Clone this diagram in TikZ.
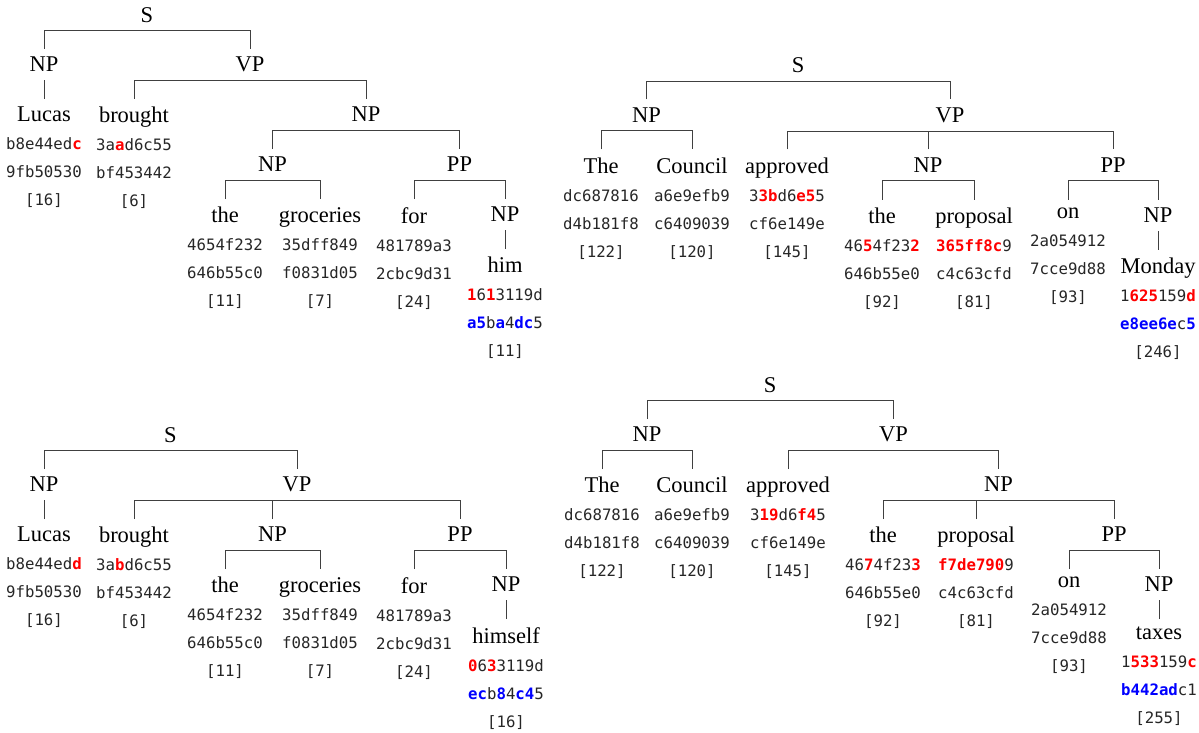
\documentclass[tikz,border=0pt]{standalone}
\usepackage{fontspec}
\setmainfont{Liberation Serif}
\newfontfamily\hashmono{DejaVu Sans Mono}
\usepackage{tikz}

\newcommand{\hsh}[1]{{\hashmono\fontsize{15.7}{28}\selectfont\color{black!85}#1}}
\newcommand{\hlred}[1]{{\bfseries\color{red}#1}}
\newcommand{\hlblue}[1]{{\bfseries\color{blue}#1}}

\begin{document}
\begin{tikzpicture}[x=1pt,y=-1pt,
    every node/.style={anchor=north, align=center, inner xsep=0pt, inner ysep=8pt,
      font=\fontsize{22.5}{28}\selectfont},
    branch/.style={draw=black!75, line width=0.9pt}]
  \useasboundingbox (0,0) rectangle (1199,733);

  % Tree 1: Lucas brought the groceries for him
  \node (aS) at (147,-1) {S};
  \node (aNP) at (44,49) {NP};
  \node (aVP) at (250,49) {VP};
  \node (aLucas) at (44,99) {Lucas\\\hsh{b8e44ed\hlred{c}}\\\hsh{9fb50530}\\\hsh{[16]}};
  \node (aBrought) at (134,99) {brought\\\hsh{3a\hlred{a}d6c55}\\\hsh{bf453442}\\\hsh{[6]}};
  \node (aNPo) at (366,99) {NP};
  \node (aNPd) at (272.5,149) {NP};
  \node (aPP) at (459.5,149) {PP};
  \node (aThe) at (225,199) {the\\\hsh{4654f232}\\\hsh{646b55c0}\\\hsh{[11]}};
  \node (aGroc) at (320,199) {groceries\\\hsh{35dff849}\\\hsh{f0831d05}\\\hsh{[7]}};
  \node (aFor) at (414,199) {for\\\hsh{481789a3}\\\hsh{2cbc9d31}\\\hsh{[24]}};
  \node (aNPh) at (505,199) {NP};
  \node (aHim) at (505,249) {him\\\hsh{\hlred{1}6\hlred{1}3119d}\\\hsh{\hlblue{a5}b\hlblue{a}4\hlblue{dc}5}\\\hsh{[11]}};
  \draw[branch] (aNP.north) |- (aS.south) -| (aVP.north);
  \draw[branch] (aLucas.north) -- (aNP.south);
  \draw[branch] (aBrought.north) |- (aVP.south) -| (aNPo.north);
  \draw[branch] (aNPd.north) |- (aNPo.south) -| (aPP.north);
  \draw[branch] (aThe.north) |- (aNPd.south) -| (aGroc.north);
  \draw[branch] (aFor.north) |- (aPP.south) -| (aNPh.north);
  \draw[branch] (aHim.north) -- (aNPh.south);

  % Tree 2: The Council approved the proposal on Monday
  \node (bS) at (798,49.5) {S};
  \node (bNP) at (646.5,99.5) {NP};
  \node (bVP) at (950,99.5) {VP};
  \node (bThe) at (601,149.5) {The\\\hsh{dc687816}\\\hsh{d4b181f8}\\\hsh{[122]}};
  \node (bCouncil) at (692,149.5) {Council\\\hsh{a6e9efb9}\\\hsh{c6409039}\\\hsh{[120]}};
  \node (bApproved) at (787,149.5) {approved\\\hsh{3\hlred{3b}d6\hlred{e5}5}\\\hsh{cf6e149e}\\\hsh{[145]}};
  \node (bNPo) at (928,149.5) {NP};
  \node (bPP) at (1113,149.5) {PP};
  \node (bThe2) at (882,199.5) {the\\\hsh{46\hlred{5}4f23\hlred{2}}\\\hsh{646b55e0}\\\hsh{[92]}};
  \node (bProposal) at (974,199.5) {proposal\\\hsh{\hlred{365ff8c}9}\\\hsh{c4c63cfd}\\\hsh{[81]}};
  \node (bOn) at (1068,199.5) {on\\\hsh{2a054912}\\\hsh{7cce9d88}\\\hsh{[93]}};
  \node (bNPm) at (1158,199.5) {NP};
  \node (bMonday) at (1158,249.5) {Monday\\\hsh{1\hlred{625}159\hlred{d}}\\\hsh{\hlblue{e8ee6e}c\hlblue{5}}\\\hsh{[246]}};
  \draw[branch] (bNP.north) |- (bS.south) -| (bVP.north);
  \draw[branch] (bThe.north) |- (bNP.south) -| (bCouncil.north);
  \draw[branch] (bApproved.north) |- (bVP.south) -| (bPP.north);
  \draw[branch] (bNPo.north) -- (bNPo.north |- bVP.south);
  \draw[branch] (bThe2.north) |- (bNPo.south) -| (bProposal.north);
  \draw[branch] (bOn.north) |- (bPP.south) -| (bNPm.north);
  \draw[branch] (bMonday.north) -- (bNPm.south);

  % Tree 3: Lucas brought the groceries for himself
  \node (cS) at (170.5,419) {S};
  \node (cNP) at (44,469) {NP};
  \node (cVP) at (297,469) {VP};
  \node (cLucas) at (44,519) {Lucas\\\hsh{b8e44ed\hlred{d}}\\\hsh{9fb50530}\\\hsh{[16]}};
  \node (cBrought) at (134,519) {brought\\\hsh{3a\hlred{b}d6c55}\\\hsh{bf453442}\\\hsh{[6]}};
  \node (cNPo) at (272.5,519) {NP};
  \node (cPP) at (460,519) {PP};
  \node (cThe) at (225,569) {the\\\hsh{4654f232}\\\hsh{646b55c0}\\\hsh{[11]}};
  \node (cGroc) at (320,569) {groceries\\\hsh{35dff849}\\\hsh{f0831d05}\\\hsh{[7]}};
  \node (cFor) at (414,569) {for\\\hsh{481789a3}\\\hsh{2cbc9d31}\\\hsh{[24]}};
  \node (cNPh) at (506,569) {NP};
  \node (cHimself) at (506,619) {himself\\\hsh{\hlred{0}6\hlred{3}3119d}\\\hsh{\hlblue{ec}b\hlblue{8}4\hlblue{c4}5}\\\hsh{[16]}};
  \draw[branch] (cNP.north) |- (cS.south) -| (cVP.north);
  \draw[branch] (cLucas.north) -- (cNP.south);
  \draw[branch] (cBrought.north) |- (cVP.south) -| (cPP.north);
  \draw[branch] (cNPo.north) -- (cNPo.north |- cVP.south);
  \draw[branch] (cThe.north) |- (cNPo.south) -| (cGroc.north);
  \draw[branch] (cFor.north) |- (cPP.south) -| (cNPh.north);
  \draw[branch] (cHimself.north) -- (cNPh.south);

  % Tree 4: The Council approved the proposal on taxes
  \node (dS) at (770,369) {S};
  \node (dNP) at (647,419) {NP};
  \node (dVP) at (893.5,419) {VP};
  \node (dThe) at (602,469) {The\\\hsh{dc687816}\\\hsh{d4b181f8}\\\hsh{[122]}};
  \node (dCouncil) at (692,469) {Council\\\hsh{a6e9efb9}\\\hsh{c6409039}\\\hsh{[120]}};
  \node (dApproved) at (788,469) {approved\\\hsh{3\hlred{19}d6\hlred{f4}5}\\\hsh{cf6e149e}\\\hsh{[145]}};
  \node (dNPo) at (998.5,469) {NP};
  \node (dThe2) at (883,519) {the\\\hsh{46\hlred{7}4f23\hlred{3}}\\\hsh{646b55e0}\\\hsh{[92]}};
  \node (dProposal) at (976,519) {proposal\\\hsh{\hlred{f7de790}9}\\\hsh{c4c63cfd}\\\hsh{[81]}};
  \node (dPP) at (1114,519) {PP};
  \node (dOn) at (1069,569) {on\\\hsh{2a054912}\\\hsh{7cce9d88}\\\hsh{[93]}};
  \node (dNPt) at (1159,569) {NP};
  \node (dTaxes) at (1159,619) {taxes\\\hsh{1\hlred{533}159\hlred{c}}\\\hsh{\hlblue{b442ad}c1}\\\hsh{[255]}};
  \draw[branch] (dNP.north) |- (dS.south) -| (dVP.north);
  \draw[branch] (dThe.north) |- (dNP.south) -| (dCouncil.north);
  \draw[branch] (dApproved.north) |- (dVP.south) -| (dNPo.north);
  \draw[branch] (dThe2.north) |- (dNPo.south) -| (dPP.north);
  \draw[branch] (dProposal.north) -- (dProposal.north |- dNPo.south);
  \draw[branch] (dOn.north) |- (dPP.south) -| (dNPt.north);
  \draw[branch] (dTaxes.north) -- (dNPt.south);
\end{tikzpicture}
\end{document}
